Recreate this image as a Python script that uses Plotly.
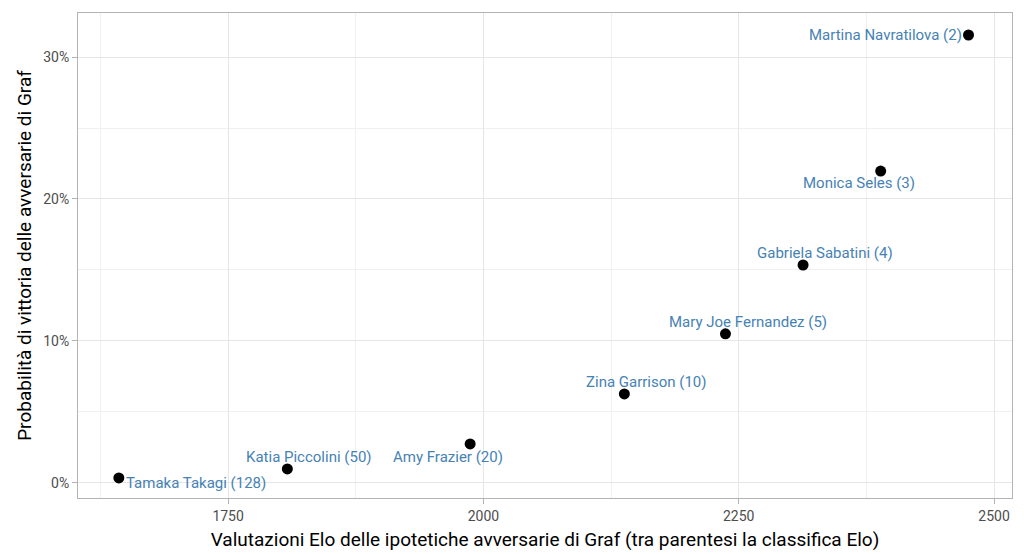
import plotly.graph_objects as go

names = ["Tamaka Takagi (128)", "Katia Piccolini (50)", "Amy Frazier (20)",
         "Zina Garrison (10)", "Mary Joe Fernandez (5)", "Gabriela Sabatini (4)",
         "Monica Seles (3)", "Martina Navratilova (2)"]
elo = [1643, 1808, 1987, 2138, 2237, 2313, 2389, 2475]
prob = [0.0035, 0.0099, 0.0275, 0.0627, 0.105, 0.1535, 0.2197, 0.3155]

# label offsets in pixels (style only)
label_style = [
    dict(xanchor="left", xshift=5, yshift=-5),
    dict(xanchor="center", xshift=22, yshift=12),
    dict(xanchor="center", xshift=-22, yshift=-13),
    dict(xanchor="center", xshift=22, yshift=12),
    dict(xanchor="center", xshift=23, yshift=12),
    dict(xanchor="center", xshift=22, yshift=12),
    dict(xanchor="center", xshift=-22, yshift=-12),
    dict(xanchor="right", xshift=-5, yshift=0),
]

fig = go.Figure()
fig.add_trace(go.Scatter(x=elo, y=prob, mode="markers",
                         marker=dict(color="black", size=11),
                         hoverinfo="skip", showlegend=False))

for n, x, y, s in zip(names, elo, prob, label_style):
    fig.add_annotation(x=x, y=y, text=n, showarrow=False,
                       font=dict(color="#4682B4", size=15, family="Roboto"),
                       yanchor="middle", **s)

grid = "#e6e6e6"
minor_grid = "#f0f0f0"
border = "#b3b3b3"

fig.update_layout(
    width=1024, height=554,
    margin=dict(l=78, r=12, t=13, b=56),
    paper_bgcolor="white", plot_bgcolor="white",
    font=dict(family="Roboto", color="black"),
    xaxis=dict(
        range=[1603, 2517.6], tick0=1750, dtick=250, tickmode="linear",
        automargin=False,
        showgrid=True, gridcolor=grid, gridwidth=1,
        minor=dict(dtick=125, showgrid=True, gridcolor=minor_grid, gridwidth=1),
        showline=True, mirror=True, linecolor=border, linewidth=1,
        ticks="outside", ticklen=5, tickcolor=border,
        tickfont=dict(size=14, color="#4d4d4d"),
        zeroline=False,
        title=dict(text="Valutazioni Elo delle ipotetiche avversarie di Graf (tra parentesi la classifica Elo)",
                   font=dict(size=19, color="black"), standoff=9),
    ),
    yaxis=dict(
        range=[-0.0106, 0.331], tick0=0, dtick=0.1, tickmode="linear",
        tickformat=".0%", automargin=False,
        showgrid=True, gridcolor=grid, gridwidth=1,
        minor=dict(dtick=0.05, showgrid=True, gridcolor=minor_grid, gridwidth=1),
        showline=True, mirror=True, linecolor=border, linewidth=1,
        ticks="outside", ticklen=5, tickcolor=border,
        tickfont=dict(size=14, color="#4d4d4d"),
        zeroline=False,
        title=dict(text="Probabilità di vittoria delle avversarie di Graf",
                   font=dict(size=19, color="black"), standoff=6),
    ),
)

fig.write_html("out.html")
